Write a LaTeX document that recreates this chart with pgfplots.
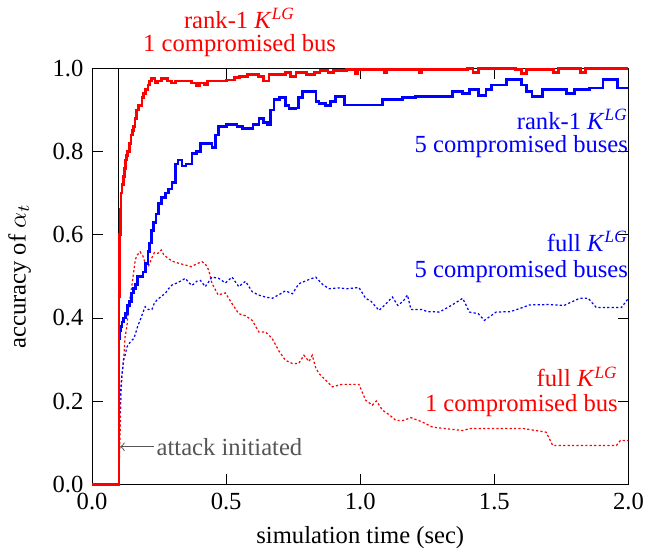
\documentclass[border=0pt]{standalone}
\usepackage{pgfplots}
\pgfplotsset{compat=1.18}
\usepackage{fontspec}
\setmainfont{Liberation Serif}
\definecolor{agray}{RGB}{85,85,85}
\newcommand{\KLG}{\textit{K}\textsuperscript{\textit{LG}}}
\begin{document}
\begin{tikzpicture}
\begin{axis}[
  scale only axis, width=218pt, height=169pt,
  xmin=0, xmax=2, ymin=0, ymax=1,
  xtick={0,0.5,1,1.5,2}, ytick={0,0.2,0.4,0.6,0.8,1},
  xticklabels={0.0,0.5,1.0,1.5,2.0},
  yticklabels={0.0,0.2,0.4,0.6,0.8,1.0},
  xlabel={simulation time (sec)}, ylabel={accuracy of $\alpha_t$},
  ylabel style={yshift=2pt},
  clip=false,
  tick style={black},
  /pgf/number format/assume math mode=true,
]
\addplot[black, thin] coordinates {(0.099,0) (0.099,1)};
% full K, 1 bus (red dotted)
\addplot[red, line width=0.5pt, dash pattern=on 0.9pt off 0.9pt] coordinates {
(0,0)(0.099,0)(0.100,0.02)(0.105,0.137)(0.108,0.218)(0.111,0.26)(0.115,0.282)(0.119,0.31)(0.123,0.354)(0.130,0.38)(0.135,0.418)(0.142,0.45)(0.148,0.475)(0.155,0.51)(0.161,0.539)(0.167,0.55)(0.179,0.559)(0.190,0.548)(0.198,0.532)(0.21,0.523)(0.22,0.54)(0.232,0.557)(0.245,0.555)(0.258,0.563)(0.267,0.552)(0.285,0.542)(0.304,0.535)(0.33,0.53)(0.36,0.525)(0.37,0.523)(0.39,0.53)(0.41,0.535)(0.422,0.53)(0.435,0.515)(0.447,0.483)(0.47,0.455)(0.497,0.46)(0.522,0.434)(0.547,0.41)(0.572,0.405)(0.597,0.394)(0.622,0.366)(0.647,0.366)(0.672,0.35)(0.697,0.32)(0.721,0.298)(0.747,0.29)(0.77,0.29)(0.79,0.31)(0.809,0.295)(0.821,0.31)(0.834,0.28)(0.846,0.266)(0.871,0.25)(0.884,0.242)(0.896,0.234)(0.93,0.24)(0.995,0.24)(1.02,0.202)(1.045,0.19)(1.06,0.2)(1.083,0.178)(1.11,0.166)(1.133,0.153)(1.16,0.153)(1.189,0.16)(1.23,0.15)(1.27,0.137)(1.382,0.129)(1.41,0.134)(1.606,0.134)(1.693,0.125)(1.718,0.093)(1.955,0.093)(1.97,0.105)(2.0,0.105)};
% full K, 5 buses (blue dotted)
\addplot[blue, line width=0.5pt, dash pattern=on 0.9pt off 0.9pt] coordinates {
(0,0)(0.099,0)(0.100,0.10)(0.105,0.218)(0.111,0.26)(0.117,0.298)(0.123,0.31)(0.13,0.33)(0.14,0.34)(0.148,0.346)(0.155,0.35)(0.161,0.36)(0.170,0.38)(0.179,0.394)(0.188,0.41)(0.198,0.427)(0.210,0.42)(0.223,0.42)(0.232,0.435)(0.242,0.443)(0.255,0.45)(0.273,0.459)(0.285,0.47)(0.298,0.479)(0.320,0.485)(0.348,0.495)(0.360,0.485)(0.373,0.478)(0.390,0.488)(0.404,0.49)(0.422,0.475)(0.447,0.498)(0.472,0.495)(0.497,0.484)(0.522,0.498)(0.547,0.475)(0.572,0.488)(0.597,0.463)(0.62,0.455)(0.647,0.45)(0.672,0.447)(0.70,0.457)(0.721,0.465)(0.747,0.458)(0.771,0.482)(0.80,0.49)(0.834,0.498)(0.86,0.48)(0.884,0.47)(0.92,0.472)(0.95,0.47)(0.995,0.473)(1.02,0.447)(1.04,0.44)(1.07,0.418)(1.09,0.43)(1.12,0.45)(1.14,0.43)(1.16,0.44)(1.176,0.455)(1.189,0.42)(1.23,0.42)(1.25,0.415)(1.295,0.414)(1.34,0.43)(1.382,0.447)(1.407,0.414)(1.44,0.41)(1.463,0.394)(1.507,0.414)(1.56,0.415)(1.606,0.425)(1.63,0.431)(1.70,0.432)(1.76,0.43)(1.818,0.447)(1.85,0.447)(1.88,0.425)(1.974,0.425)(2.0,0.447)};
% rank-1 K, 5 buses (blue solid)
\addplot[blue, const plot, line width=1.1pt] coordinates {
(0,0)(0.099,0)(0.100,0.35)(0.103,0.37)(0.108,0.38)(0.112,0.39)(0.118,0.40)(0.125,0.41)(0.132,0.43)(0.140,0.44)(0.148,0.46)(0.155,0.47)(0.162,0.48)(0.170,0.50)(0.180,0.50)(0.190,0.51)(0.200,0.53)(0.208,0.56)(0.215,0.58)(0.222,0.61)(0.229,0.63)(0.238,0.65)(0.248,0.675)(0.260,0.69)(0.273,0.70)(0.285,0.71)(0.298,0.725)(0.310,0.77)(0.320,0.78)(0.335,0.765)(0.350,0.77)(0.360,0.77)(0.373,0.795)(0.390,0.80)(0.404,0.82)(0.420,0.82)(0.447,0.81)(0.460,0.84)(0.472,0.86)(0.500,0.865)(0.522,0.865)(0.540,0.86)(0.560,0.855)(0.580,0.855)(0.600,0.865)(0.622,0.88)(0.640,0.87)(0.653,0.865)(0.665,0.90)(0.678,0.925)(0.700,0.93)(0.720,0.91)(0.734,0.904)(0.759,0.905)(0.770,0.93)(0.784,0.945)(0.821,0.945)(0.835,0.92)(0.846,0.916)(0.871,0.91)(0.890,0.92)(0.908,0.932)(0.94,0.912)(1.083,0.925)(1.158,0.93)(1.207,0.932)(1.345,0.945)(1.38,0.94)(1.407,0.949)(1.44,0.935)(1.469,0.95)(1.49,0.96)(1.544,0.973)(1.60,0.96)(1.619,0.945)(1.64,0.932)(1.68,0.95)(1.72,0.95)(1.768,0.94)(1.80,0.95)(1.855,0.953)(1.905,0.973)(1.96,0.953)(2.0,0.953)};
% rank-1 K, 1 bus (red solid)
\addplot[red, const plot, line width=1.1pt] coordinates {
(0,0)(0.099,0)(0.100,0.45)(0.102,0.60)(0.105,0.66)(0.108,0.70)(0.112,0.72)(0.116,0.74)(0.120,0.76)(0.124,0.78)(0.128,0.79)(0.132,0.80)(0.136,0.80)(0.140,0.82)(0.145,0.84)(0.150,0.85)(0.155,0.86)(0.160,0.88)(0.166,0.90)(0.172,0.91)(0.180,0.91)(0.186,0.93)(0.192,0.94)(0.200,0.95)(0.208,0.96)(0.215,0.97)(0.222,0.975)(0.235,0.965)(0.245,0.97)(0.26,0.975)(0.28,0.97)(0.295,0.965)(0.31,0.97)(0.34,0.97)(0.37,0.965)(0.39,0.958)(0.40,0.965)(0.42,0.96)(0.43,0.97)(0.47,0.97)(0.50,0.972)(0.53,0.978)(0.55,0.98)(0.58,0.985)(0.62,0.98)(0.64,0.97)(0.66,0.985)(0.72,0.99)(0.74,0.98)(0.76,0.99)(0.80,0.985)(0.83,0.99)(0.85,0.995)(0.88,0.99)(0.90,0.995)(0.95,0.998)(0.98,0.988)(0.99,0.998)(1.05,0.998)(1.09,0.99)(1.10,0.998)(1.20,0.998)(1.22,0.99)(1.23,0.998)(1.30,0.998)(1.40,1.0)(1.42,0.99)(1.44,1.0)(1.58,0.998)(1.60,0.988)(1.62,0.998)(1.72,0.99)(1.74,1.0)(1.80,1.0)(1.82,0.99)(1.84,1.0)(1.95,1.0)(2.0,1.0)};
\draw[<-, agray] (axis cs:0.105,0.09) -- (axis cs:0.23,0.09) node[right, inner sep=1pt, text=agray] {attack initiated};
\node[red] at (axis cs:0.55,1.12) {rank-1 \KLG};
\node[red] at (axis cs:0.55,1.056) {1 compromised bus};
\node[blue, anchor=east, inner sep=0pt] at (axis cs:2.0,0.877) {rank-1 \KLG};
\node[blue, anchor=east, inner sep=0pt] at (axis cs:2.0,0.812) {5 compromised buses};
\node[blue, anchor=east, inner sep=0pt] at (axis cs:2.0,0.583) {full \KLG};
\node[blue, anchor=east, inner sep=0pt] at (axis cs:2.0,0.511) {5 compromised buses};
\node[red, anchor=east, inner sep=0pt] at (axis cs:1.962,0.258) {full \KLG};
\node[red, anchor=east, inner sep=0pt] at (axis cs:1.962,0.19) {1 compromised bus};
\end{axis}
\end{tikzpicture}
\end{document}
